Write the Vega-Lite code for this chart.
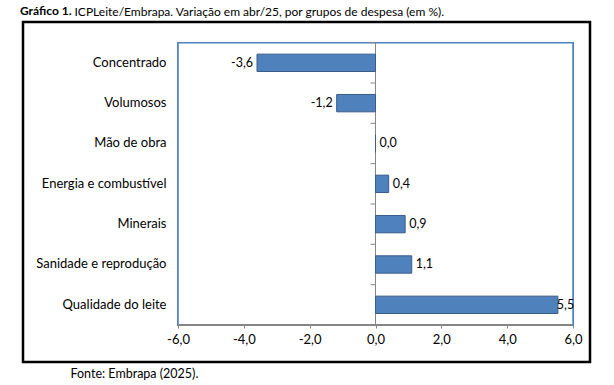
{
  "$schema": "https://vega.github.io/schema/vega-lite/v6.json",
  "width": 567,
  "height": 340,
  "autosize": {"type": "none"},
  "padding": {"left": 23, "top": 22, "right": 24, "bottom": 23},
  "background": "white",
  "title": {
    "text": "Gráfico 1.",
    "font": "Lato",
    "fontSize": 12,
    "fontWeight": "bold",
    "color": "#000",
    "anchor": "start",
    "frame": "group",
    "baseline": "alphabetic",
    "offset": 7,
    "dy": 29,
    "dx": -3
  },
  "data": {
    "values": [
      {"grupo": "Concentrado", "valor": -3.6},
      {"grupo": "Volumosos", "valor": -1.18},
      {"grupo": "Mão de obra", "valor": 0.0},
      {"grupo": "Energia e combustível", "valor": 0.4},
      {"grupo": "Minerais", "valor": 0.9},
      {"grupo": "Sanidade e reprodução", "valor": 1.1},
      {"grupo": "Qualidade do leite", "valor": 5.54}
    ]
  },
  "layer": [
    {
      "mark": {"type": "rect", "fill": "white", "stroke": "#4F81BD", "strokeWidth": 1.5},
      "encoding": {
        "x": {"datum": -6, "type": "quantitative", "axis": null},
        "x2": {"datum": 6},
        "y": {"datum": "Concentrado", "type": "nominal", "bandPosition": -0.6628, "axis": null},
        "y2": {"datum": "Qualidade do leite", "bandPosition": 1.6628}
      }
    },
    {
      "mark": {"type": "rule", "color": "#868686", "strokeWidth": 1},
      "encoding": {
        "x": {"datum": -6, "type": "quantitative", "axis": null},
        "x2": {"datum": 6},
        "y": {"datum": "Qualidade do leite", "type": "nominal", "bandPosition": 1.6628, "axis": null}
      }
    },
    {
      "mark": {"type": "rule", "color": "#868686", "strokeWidth": 1},
      "encoding": {
        "x": {"datum": -0.152, "type": "quantitative", "axis": null},
        "x2": {"datum": 0},
        "y": {"field": "grupo", "type": "nominal", "bandPosition": -0.6628, "axis": null}
      }
    },
    {
      "mark": {"type": "rule", "color": "#868686", "strokeWidth": 1},
      "encoding": {
        "x": {
          "datum": 0,
          "type": "quantitative",
          "axis": {
            "orient": "top",
            "labels": false,
            "ticks": false,
            "domain": false,
            "grid": false,
            "title": "ICPLeite/Embrapa. Variação em abr/25, por grupos de despesa (em %).",
            "titleFont": "Lato",
            "titleFontSize": 12,
            "titleFontWeight": "normal",
            "titleColor": "#000",
            "titleX": 51,
            "titleY": -7,
            "titleAlign": "left",
            "titleAnchor": "start",
            "titleBaseline": "alphabetic"
          }
        },
        "y": {"datum": "Concentrado", "type": "nominal", "bandPosition": -0.6628, "axis": null},
        "y2": {"datum": "Qualidade do leite", "bandPosition": 1.6628}
      }
    },
    {
      "mark": {"type": "bar", "fill": "#4F81BD", "stroke": "#385D8A", "strokeWidth": 1},
      "encoding": {
        "x": {
          "field": "valor",
          "type": "quantitative",
          "scale": {"domain": [-10.709, 6.516], "nice": false, "zero": false},
          "axis": {
            "orient": "bottom",
            "offset": -39,
            "values": [-6, -4, -2, 0, 2, 4, 6],
            "format": ".1f",
            "domain": false,
            "grid": false,
            "ticks": true,
            "tickSize": 5,
            "tickColor": "#868686",
            "labelFont": "Lato",
            "labelFontSize": 13,
            "labelColor": "#000",
            "labelPadding": 5,
            "labelFlush": false,
            "labelOverlap": false,
            "title": "Fonte: Embrapa (2025).",
            "titleFont": "Lato",
            "titleFontSize": 12.5,
            "titleFontWeight": "normal",
            "titleColor": "#000",
            "titleX": 47,
            "titleY": 54,
            "titleAlign": "left",
            "titleAnchor": "start",
            "titleBaseline": "alphabetic"
          }
        },
        "y": {
          "field": "grupo",
          "type": "nominal",
          "sort": null,
          "scale": {
            "domain": ["Concentrado", "Volumosos", "Mão de obra", "Energia e combustível", "Minerais", "Sanidade e reprodução", "Qualidade do leite"],
            "paddingInner": 0.57,
            "paddingOuter": 1.05,
            "align": 0.3986
          },
          "axis": {
            "orient": "left",
            "offset": -155,
            "domain": false,
            "ticks": false,
            "grid": false,
            "labelPadding": 12,
            "labelFont": "Lato",
            "labelFontSize": 13,
            "labelColor": "#000",
            "title": null
          }
        }
      }
    },
    {
      "transform": [{"filter": "datum.valor < 0"}],
      "mark": {"type": "text", "align": "right", "baseline": "middle", "dx": -4, "font": "Lato", "fontSize": 12.5, "color": "#000"},
      "encoding": {
        "x": {"field": "valor", "type": "quantitative", "axis": null},
        "y": {"field": "grupo", "type": "nominal", "sort": null, "axis": null},
        "text": {"field": "valor", "type": "quantitative", "format": ".1f"}
      }
    },
    {
      "transform": [{"filter": "datum.valor >= 0 && datum.valor < 5"}],
      "mark": {"type": "text", "align": "left", "baseline": "middle", "dx": 4, "font": "Lato", "fontSize": 12.5, "color": "#000"},
      "encoding": {
        "x": {"field": "valor", "type": "quantitative", "axis": null},
        "y": {"field": "grupo", "type": "nominal", "sort": null, "axis": null},
        "text": {"field": "valor", "type": "quantitative", "format": ".1f"}
      }
    },
    {
      "transform": [{"filter": "datum.valor >= 5"}],
      "mark": {"type": "text", "align": "left", "baseline": "middle", "dx": -1, "font": "Lato", "fontSize": 12.5, "color": "#000"},
      "encoding": {
        "x": {"field": "valor", "type": "quantitative", "axis": null},
        "y": {"field": "grupo", "type": "nominal", "sort": null, "axis": null},
        "text": {"field": "valor", "type": "quantitative", "format": ".1f"}
      }
    }
  ],
  "resolve": {"axis": {"x": "independent", "y": "independent"}},
  "config": {
    "view": {"stroke": "#000", "strokeWidth": 2.5},
    "locale": {
      "number": {"decimal": ",", "thousands": ".", "grouping": [3], "currency": ["R$", ""], "minus": "-"}
    }
  }
}
